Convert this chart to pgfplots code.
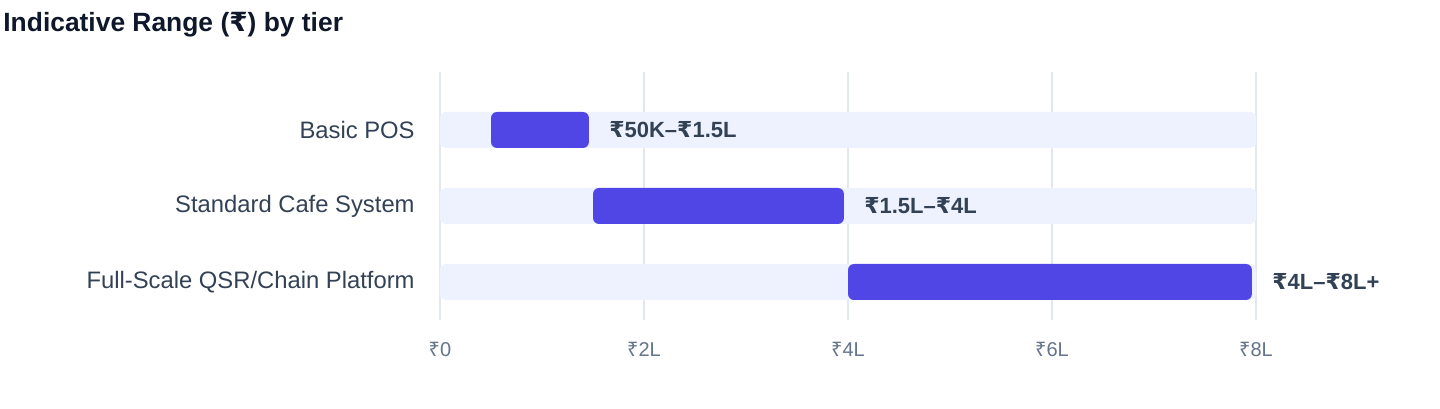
\documentclass[border=0pt]{standalone}
\usepackage{fontspec}
\setmainfont{Liberation Sans}
\newfontfamily\rupeefont{Noto Sans}[BoldFont=DejaVu Sans Bold]
\newcommand\Rs{{\rupeefont ₹}}
\usepackage{pgfplots}
\usepackage{pgfplotstable}
\pgfplotsset{compat=1.18}

\definecolor{barcol}{HTML}{4F46E5}
\definecolor{trackcol}{HTML}{EEF2FF}
\definecolor{gridcol}{HTML}{E2E8F0}
\definecolor{ylab}{HTML}{334155}
\definecolor{xlab}{HTML}{64748B}
\definecolor{titlecol}{HTML}{0F172A}

% tier ranges, in lakh: start of the bar and its length
\pgfplotstableread{
y start len label
2 0.50 0.96 {\Rs50K–\Rs1.5L}
1 1.50 2.46 {\Rs1.5L–\Rs4L}
0 4.00 3.96 {\Rs4L–\Rs8L+}
}\ranges

\pgfplotstableread{
y track
2 8
1 8
0 8
}\tracks

\pgfplotsset{
  rangeaxis/.style={
    at={(220pt,44pt)}, anchor=south west,
    scale only axis, width=408pt, height=124pt,
    xmin=0, xmax=8, ymin=-0.5, ymax=2.763,
    bar width=18pt,
    clip=false,
  },
}

\begin{document}
\begin{tikzpicture}
\path[use as bounding box] (0,0) rectangle (720pt,204pt);
\node[anchor=base west, inner sep=0pt, text=titlecol,
      font=\bfseries\fontsize{13.2}{16}\selectfont] at (1.5pt,188pt)
  {Indicative Range (\Rs) by tier};

\begin{axis}[
    rangeaxis,
    xbar, bar shift=0pt,
    axis x line*=bottom, axis y line*=left,
    axis line style={draw=none},
    xtick={0,2,4,6,8},
    xticklabels={\Rs0,\Rs2L,\Rs4L,\Rs6L,\Rs8L},
    ytick={0,1,2},
    yticklabels={Full-Scale QSR/Chain Platform, Standard Cafe System, Basic POS},
    major tick length=0pt,
    xmajorgrids,
    grid style={draw=gridcol, line width=0.75pt},
    xticklabel style={font=\fontsize{10}{12}\selectfont, text=xlab,
                      inner sep=0pt, anchor=north},
    xticklabel shift=11pt,
    yticklabel style={font=\fontsize{11.9}{14}\selectfont, text=ylab,
                      inner sep=0pt, anchor=east},
    yticklabel shift=12.5pt,
]
\addplot[fill=trackcol, draw=none, rounded corners=3pt]
  table[x=track, y=y] {\tracks};
\end{axis}

\begin{axis}[
    rangeaxis,
    xbar stacked,
    hide axis,
]
\addplot[draw=none, fill=none] table[x=start, y=y] {\ranges};
\addplot[fill=barcol, draw=none, rounded corners=3pt] table[x=len, y=y] {\ranges};
\end{axis}

% labels at the bar ends
\begin{axis}[
    rangeaxis,
    xbar, bar shift=0pt,
    hide axis,
]
\addplot[draw=none, fill=none,
         nodes near coords, point meta=explicit symbolic,
         nodes near coords style={anchor=west, inner sep=0pt, xshift=10pt,
           text=ylab, font=\bfseries\fontsize{11}{13}\selectfont}]
  table[x expr=\thisrow{start}+\thisrow{len}, y=y, meta=label] {\ranges};
\end{axis}
\end{tikzpicture}
\end{document}
